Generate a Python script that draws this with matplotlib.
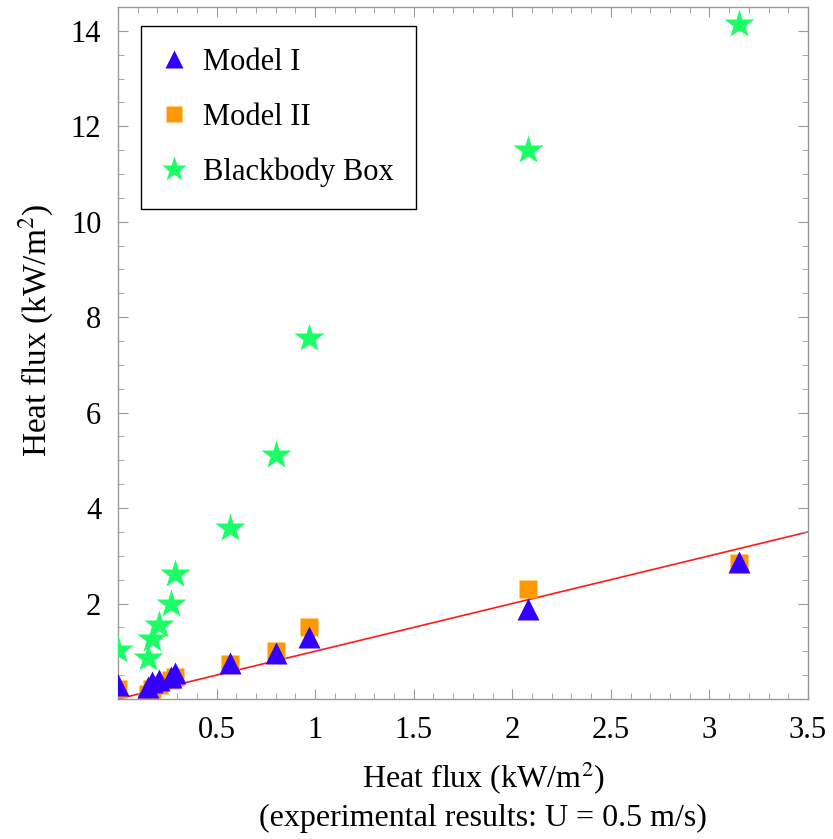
import numpy as np
import matplotlib
matplotlib.use('Agg')
import matplotlib.pyplot as plt
from matplotlib.ticker import MultipleLocator, FixedLocator

# experimental heat flux (kW/m2)
x_exp = [0.0, 0.15, 0.17, 0.21, 0.27, 0.29, 0.57, 0.80, 0.97, 2.08, 3.15]
model1 = [0.30, 0.25, 0.35, 0.40, 0.45, 0.55, 0.75, 0.96, 1.30, 1.88, 2.88]
model2 = [0.20, 0.10, 0.20, 0.30, 0.40, 0.45, 0.73, 1.00, 1.51, 2.31, 2.85]
blackbody = [1.02, 0.86, 1.26, 1.55, 1.99, 2.62, 3.58, 5.12, 7.57, 11.51, 14.15]
line_x = [0.0, 3.5]

xticks = [0.5, 1, 1.5, 2, 2.5, 3, 3.5]
xticklabels = ['0.5', '1', '1.5', '2', '2.5', '3', '3.5']
yticks = [2, 4, 6, 8, 10, 12, 14]

plt.rcParams['font.family'] = ['Liberation Serif', 'DejaVu Serif']
plt.rcParams['mathtext.fontset'] = 'stix'

fig = plt.figure(figsize=(8.33, 8.39), dpi=100)
ax = fig.add_axes([0.1417, 0.1669, 0.8283, 0.8248])

ax.plot(line_x, line_x, color='#ff1a1a', lw=1.2, zorder=1)
ax.plot(x_exp, model2, 's', color='#ff9900', ms=13, mec='none', label='Model II', zorder=2)
ax.plot(x_exp, model1, '^', color='#3300ff', ms=16, mec='none', label='Model I', zorder=3)
ax.plot(x_exp, blackbody, '*', color='#1aff66', ms=22, mec='none', label='Blackbody Box', zorder=4)

ax.set_xlim(0, 3.5)
ax.set_ylim(0, 14.5)
ax.xaxis.set_major_locator(FixedLocator(xticks))
ax.set_xticklabels(xticklabels)
ax.xaxis.set_minor_locator(MultipleLocator(0.1))
ax.yaxis.set_major_locator(FixedLocator(yticks))
ax.yaxis.set_minor_locator(MultipleLocator(0.5))

ax.tick_params(which='both', direction='in', top=True, right=True, colors='#999999',
               labelcolor='black', labelsize=22)
ax.tick_params(axis='x', which='major', length=7, pad=12)
ax.tick_params(axis='y', which='major', length=7, pad=12)
ax.tick_params(which='minor', length=4)
for s in ax.spines.values():
    s.set_color('#999999')
    s.set_linewidth(1.0)

ax.set_xlabel('Heat flux (kW/m$^2$)\n(experimental results: U = 0.5 m/s)', fontsize=23,
              linespacing=1.3)
ax.xaxis.set_label_coords(0.529, -0.088, transform=ax.transAxes)
ax.xaxis.label.set_va('top')
ax.set_ylabel('Heat flux (kW/m$^2$)', fontsize=24)
ax.yaxis.set_label_coords(-0.09, 0.533, transform=ax.transAxes)

h, l = ax.get_legend_handles_labels()
order = [1, 0, 2]
leg = ax.legend([h[i] for i in order], [l[i] for i in order], loc='upper left',
                bbox_to_anchor=(0.033, 0.972), fontsize=22, fancybox=False, frameon=True,
                edgecolor='black', framealpha=1, handlelength=0.8, handletextpad=0.55,
                borderpad=0.7, labelspacing=0.85, borderaxespad=0)
leg.get_frame().set_linewidth(1.0)
for lh in leg.legend_handles:
    lh.set_markersize(lh.get_markersize() * 0.85)

fig.savefig('out.png', dpi=100)
